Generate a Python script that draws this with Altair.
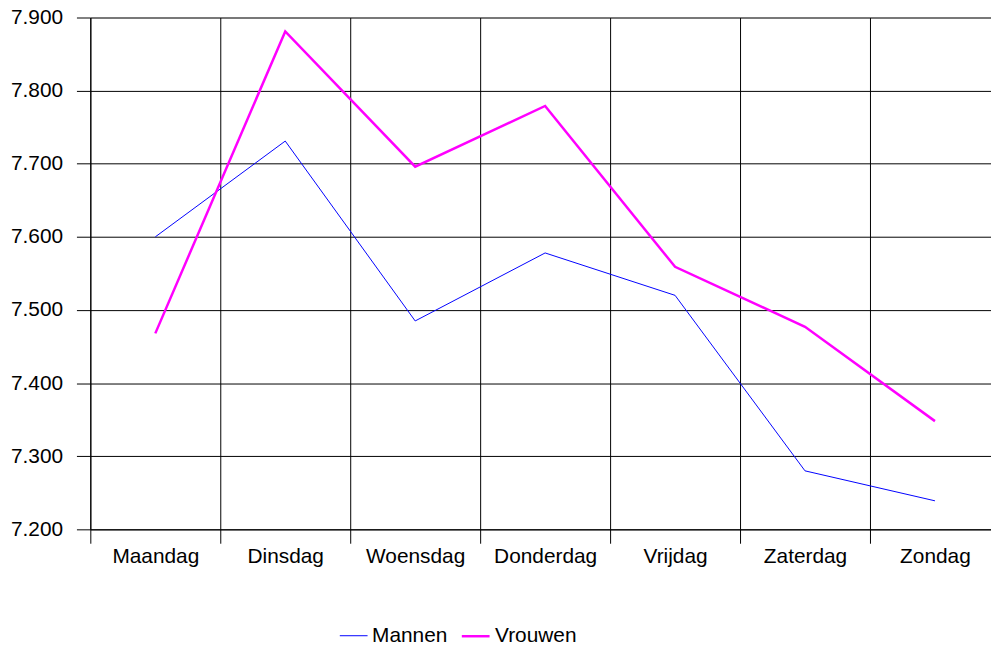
import altair as alt
import pandas as pd

days = ["Maandag", "Dinsdag", "Woensdag", "Donderdag", "Vrijdag", "Zaterdag", "Zondag"]
mannen = [7600, 7731, 7485, 7578, 7520, 7280, 7239]
vrouwen = [7468, 7881, 7696, 7779, 7559, 7477, 7348]
series = ["Mannen", "Vrouwen"]
colors = ["#0000FF", "#FF00FF"]

rows = []
for s, vals in zip(series, [mannen, vrouwen]):
    for i, (d, v) in enumerate(zip(days, vals)):
        rows.append({"dag": d, "idx": i, "waarde": v, "serie": s})
df = pd.DataFrame(rows)

FONT = "Liberation Sans"
PLOT_W = 908          # visible plot width (the 7th band runs past the window edge)
STEP = 131            # width of one day band
boundaries = [i - 0.5 for i in range(len(days))]
day_array = "[" + ",".join("'" + d + "'" for d in days) + "]"

chart = alt.Chart(df).mark_line().encode(
    x=alt.X("idx:Q", title=None,
            scale=alt.Scale(domain=[-0.5, -0.5 + PLOT_W / STEP], nice=False, zero=False),
            axis=alt.Axis(values=boundaries,
                          labelExpr=day_array + "[round(datum.value + 0.5)]",
                          labelOffset=STEP / 2, labelFlush=False, labelOverlap=False,
                          grid=True, gridColor="#000000", gridOpacity=1,
                          domainColor="#000000", tickColor="#000000", tickSize=14,
                          labelPadding=2, labelAngle=0, labelFontSize=21, labelFont=FONT,
                          labelColor="#000000", labelBaseline="top")),
    y=alt.Y("waarde:Q", title=None,
            scale=alt.Scale(domain=[7200, 7900], nice=False, zero=False),
            axis=alt.Axis(values=[7200, 7300, 7400, 7500, 7600, 7700, 7800, 7900],
                          labelExpr="replace(format(datum.value, ','), ',', '.')",
                          grid=True, gridColor="#000000", gridOpacity=1,
                          domainColor="#000000", tickColor="#000000", tickSize=14,
                          labelPadding=14, labelFontSize=21, labelFont=FONT,
                          labelColor="#000000")),
    color=alt.Color("serie:N", scale=alt.Scale(domain=series, range=colors),
                    legend=alt.Legend(title=None, orient="none", direction="horizontal",
                                      legendX=251, legendY=608, symbolType="stroke",
                                      symbolSize=784, labelFontSize=21, labelFont=FONT,
                                      labelColor="#000000", labelOffset=4,
                                      columnPadding=9, padding=0)),
    strokeWidth=alt.StrokeWidth("serie:N", scale=alt.Scale(domain=series, range=[1, 2.5]),
                                legend=None),
).properties(
    width=PLOT_W, height=516,
    autosize=alt.AutoSizeParams(type="none"),
    padding={"left": 83, "top": 7, "right": 0, "bottom": 112},
).configure_view(stroke=None).configure(background="white")

chart.save("out.html", embed_options={"renderer": "svg", "actions": False})
